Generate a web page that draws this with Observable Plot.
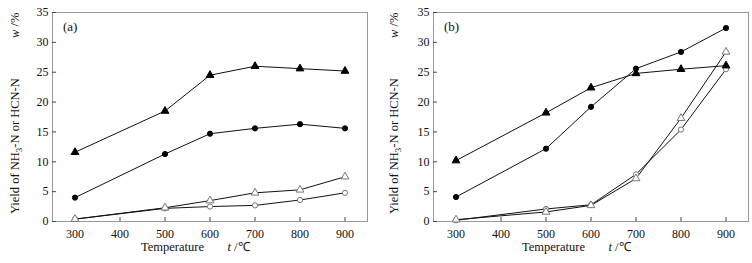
<!DOCTYPE html>
<html>
<head>
<meta charset="utf-8">
<script src="https://cdn.jsdelivr.net/npm/d3@7"></script>
<script src="https://cdn.jsdelivr.net/npm/@observablehq/plot@0.6"></script>
<style>
  html, body { margin: 0; padding: 0; background: #fff; }
  #wrap { display: flex; width: 752px; height: 263px; }
  svg, svg text { font-family: "Liberation Serif", "Times New Roman", serif !important; }
</style>
</head>
<body>
<div id="wrap"></div>
<script>
const temps = [300, 500, 600, 700, 800, 900];
const xTicks = [300, 400, 500, 600, 700, 800, 900];
const yTicks = [0, 5, 10, 15, 20, 25, 30, 35];

// Panel (a)
const aFilledTri = [11.6, 18.5, 24.5, 26.0, 25.6, 25.2];
const aFilledCirc = [4.0, 11.3, 14.7, 15.6, 16.3, 15.6];
const aOpenTri = [0.4, 2.3, 3.5, 4.8, 5.3, 7.5];
const aOpenCirc = [0.4, 2.2, 2.5, 2.7, 3.6, 4.8];

// Panel (b)
const bFilledTri = [10.2, 18.2, 22.4, 24.8, 25.5, 26.1];
const bFilledCirc = [4.1, 12.2, 19.2, 25.6, 28.4, 32.4];
const bOpenTri = [0.3, 1.6, 2.7, 7.2, 17.3, 28.4];
const bOpenCirc = [0.2, 2.1, 2.8, 7.9, 15.4, 25.5];

const panels = [
  {tag: "(a)", series: [aFilledTri, aFilledCirc, aOpenTri, aOpenCirc], ml: 52, mr: 9, ylabX: 15},
  {tag: "(b)", series: [bFilledTri, bFilledCirc, bOpenTri, bOpenCirc], ml: 57, mr: 4, ylabX: 18}
];
const styles = [
  {symbol: "triangle", fill: "#000", stroke: "#000", r: 2.9},
  {symbol: "circle", fill: "#000", stroke: "#000", r: 2.6},
  {symbol: "triangle", fill: "#fff", stroke: "#777", r: 2.9},
  {symbol: "circle", fill: "#fff", stroke: "#777", r: 2.6}
];

const W = 376, H = 263, MT = 12, MB = 42;
const FONT = '"Liberation Serif", "Times New Roman", serif';

for (const p of panels) {
  const rows = p.series.map((vals, i) => vals.map((v, j) => ({s: i, t: temps[j], v})));
  const marks = [
    Plot.frame({stroke: "#999", strokeWidth: 1}),
    Plot.axisX({ticks: xTicks, tickSize: -4, tickPadding: 12, fontSize: 12, fontFamily: FONT, stroke: "#444", color: "#111"}),
    Plot.axisY({ticks: yTicks, tickSize: -4, tickPadding: 8, fontSize: 12, fontFamily: FONT, stroke: "#444", color: "#111"})
  ];
  rows.forEach((r) => marks.push(Plot.line(r, {x: "t", y: "v", stroke: "#111", strokeWidth: 1})));
  rows.slice().reverse().forEach((r, k) => {
    const i = rows.length - 1 - k;
    const st = styles[i];
    marks.push(Plot.dot(r, {x: "t", y: "v", symbol: st.symbol, fill: st.fill, stroke: st.stroke, r: st.r, strokeWidth: 1}));
  });
  const svg = Plot.plot({
    width: W, height: H,
    marginLeft: p.ml, marginRight: p.mr, marginTop: MT, marginBottom: MB,
    style: {fontFamily: FONT, fontSize: "12px", background: "#fff", color: "#111"},
    x: {domain: [250, 950], label: null, axis: null},
    y: {domain: [0, 35], label: null, axis: null},
    marks
  });
  svg.style.fontFamily = FONT;
  const s = d3.select(svg);
  const plotLeft = p.ml, plotRight = W - p.mr, cx = (plotLeft + plotRight) / 2;
  const txt = (sel) => sel.attr("font-family", FONT).attr("fill", "#111").attr("text-anchor", "start");
  // panel tag
  txt(s.append("text")).attr("x", plotLeft + 11).attr("y", 31).attr("font-size", 13).text(p.tag);
  // x label
  txt(s.append("text")).attr("x", cx - 37).attr("y", 251).attr("text-anchor", "middle")
    .attr("font-size", 12.5).text("Temperature");
  const tl = txt(s.append("text")).attr("x", cx + 18).attr("y", 251).attr("font-size", 12.5);
  tl.append("tspan").attr("font-style", "italic").text("t");
  tl.append("tspan").text(" /℃");
  // y label (single rotated text; "w /%" placed further along)
  const yl = txt(s.append("text")).attr("transform", `translate(${p.ylabX + 4},214) rotate(-90)`)
    .attr("font-size", 12.5);
  yl.append("tspan").attr("x", 0).text("Yield of NH");
  yl.append("tspan").attr("font-size", 9).attr("dy", 3).text("3");
  yl.append("tspan").attr("dy", -3).text("-N or HCN-N");
  yl.append("tspan").attr("x", 176).attr("font-style", "italic").text("w");
  yl.append("tspan").text(" /%");
  document.getElementById("wrap").appendChild(svg);
}
</script>
</body>
</html>
